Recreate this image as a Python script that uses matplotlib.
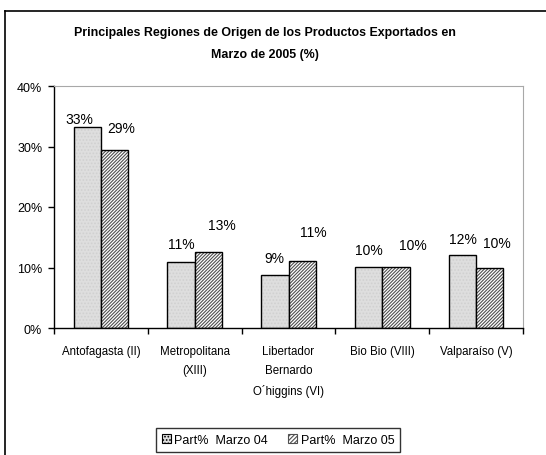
import matplotlib
matplotlib.use('Agg')
import matplotlib.pyplot as plt
from matplotlib.lines import Line2D
from matplotlib.patches import Patch
from matplotlib.ticker import FuncFormatter
import numpy as np

#===== chart data ======
regions = ['Antofagasta (II)', 'Metropolitana\n(XIII)', 'Libertador\nBernardo\nO\u00b4higgins (VI)',
           'Bio Bio (VIII)', 'Valpara\u00edso (V)']
part_mar04 = [33.2, 10.9, 8.8, 10.1, 12.1]
part_mar05 = [29.4, 12.5, 11.1, 10.1, 10.0]
series_names = ['Part%  Marzo 04', 'Part%  Marzo 05']
title = 'Principales Regiones de Origen de los Productos Exportados en\nMarzo de 2005 (%)'

# label offsets (pixels) from the top centre of each bar, excel style placement
off_04 = [(-8, 1), (0, 11), (-1, 10), (0, 10), (0, 9)]
off_05 = [(7, 15), (14, 20), (11, 22), (17, 15), (7, 17)]

plt.rcParams['font.family'] = ['Liberation Sans', 'DejaVu Sans']
plt.rcParams['hatch.linewidth'] = 0.8

W, H = 546, 456
fig = plt.figure(figsize=(W / 100, H / 100), dpi=100)
fig.patch.set_facecolor('white')

# outer chart frame (only top and left visible inside the picture)
fig.add_artist(Line2D([5 / W, 1.0], [1 - 12 / H, 1 - 12 / H], transform=fig.transFigure,
                      color='black', lw=1.2))
fig.add_artist(Line2D([5 / W, 5 / W], [0, 1 - 12 / H], transform=fig.transFigure,
                      color='black', lw=1.2))

ax = fig.add_axes([54 / W, (H - 329) / H, 469 / W, 242 / H])

x = np.arange(len(regions))
bw = 0.29

# series 1 : light grey fine dots
ax.bar(x - bw / 2, part_mar04, bw, color='#dedede', edgecolor='#d0d0d0', hatch='.....', lw=0)
ax.bar(x - bw / 2, part_mar04, bw, facecolor='none', edgecolor='black', lw=1.0)
# series 2 : dense diagonal hatch
ax.bar(x + bw / 2, part_mar05, bw, color='white', edgecolor='#505050', hatch='/' * 10, lw=0)
ax.bar(x + bw / 2, part_mar05, bw, facecolor='none', edgecolor='black', lw=1.0)

for vals, offs, xs in [(part_mar04, off_04, x - bw / 2), (part_mar05, off_05, x + bw / 2)]:
    for xi, v, (dx, dy) in zip(xs, vals, offs):
        ax.annotate('%d%%' % int(v + 0.5), (xi, v), xytext=(dx, dy), textcoords='offset pixels',
                    ha='center', va='bottom', fontsize=10)

ax.set_xlim(-0.5, len(regions) - 0.5)
ax.set_ylim(0, 40)
ax.set_yticks([0, 10, 20, 30, 40])
ax.yaxis.set_major_formatter(FuncFormatter(lambda v, p: '%d%%' % v))
ax.tick_params(axis='y', direction='out', length=4, width=1, labelsize=9, pad=4.5)

ax.set_xticks(x)
ax.set_xticklabels(regions, fontsize=8.3, linespacing=1.8, va='top')
ax.tick_params(axis='x', which='major', length=0, pad=12)
ax.set_xticks(np.arange(-0.5, len(regions)), minor=True)
ax.tick_params(axis='x', which='minor', direction='out', length=4, width=1)

for s in ['top', 'right']:
    ax.spines[s].set_color('#a8a8a8')
for s in ['left', 'bottom']:
    ax.spines[s].set_color('black')
    ax.spines[s].set_linewidth(1.0)

fig.text(265 / W, 1 - 44 / H, title, ha='center', va='center', fontsize=8.9,
         fontweight='bold', linespacing=2.15)

handles = [Patch(facecolor='#dedede', edgecolor='black', hatch='.....', lw=0.8),
           Patch(facecolor='white', edgecolor='#505050', hatch='/' * 8, lw=0.8)]
leg = fig.legend(handles, series_names, loc='center', bbox_to_anchor=(278 / W, 1 - 441 / H),
                 ncol=2, fontsize=9, frameon=True, fancybox=False, edgecolor='black',
                 handlelength=0.7, handleheight=0.7, handletextpad=0.3, columnspacing=1.6,
                 borderpad=0.45)
leg.get_frame().set_linewidth(1.0)

plt.savefig('out.png', dpi=100)
